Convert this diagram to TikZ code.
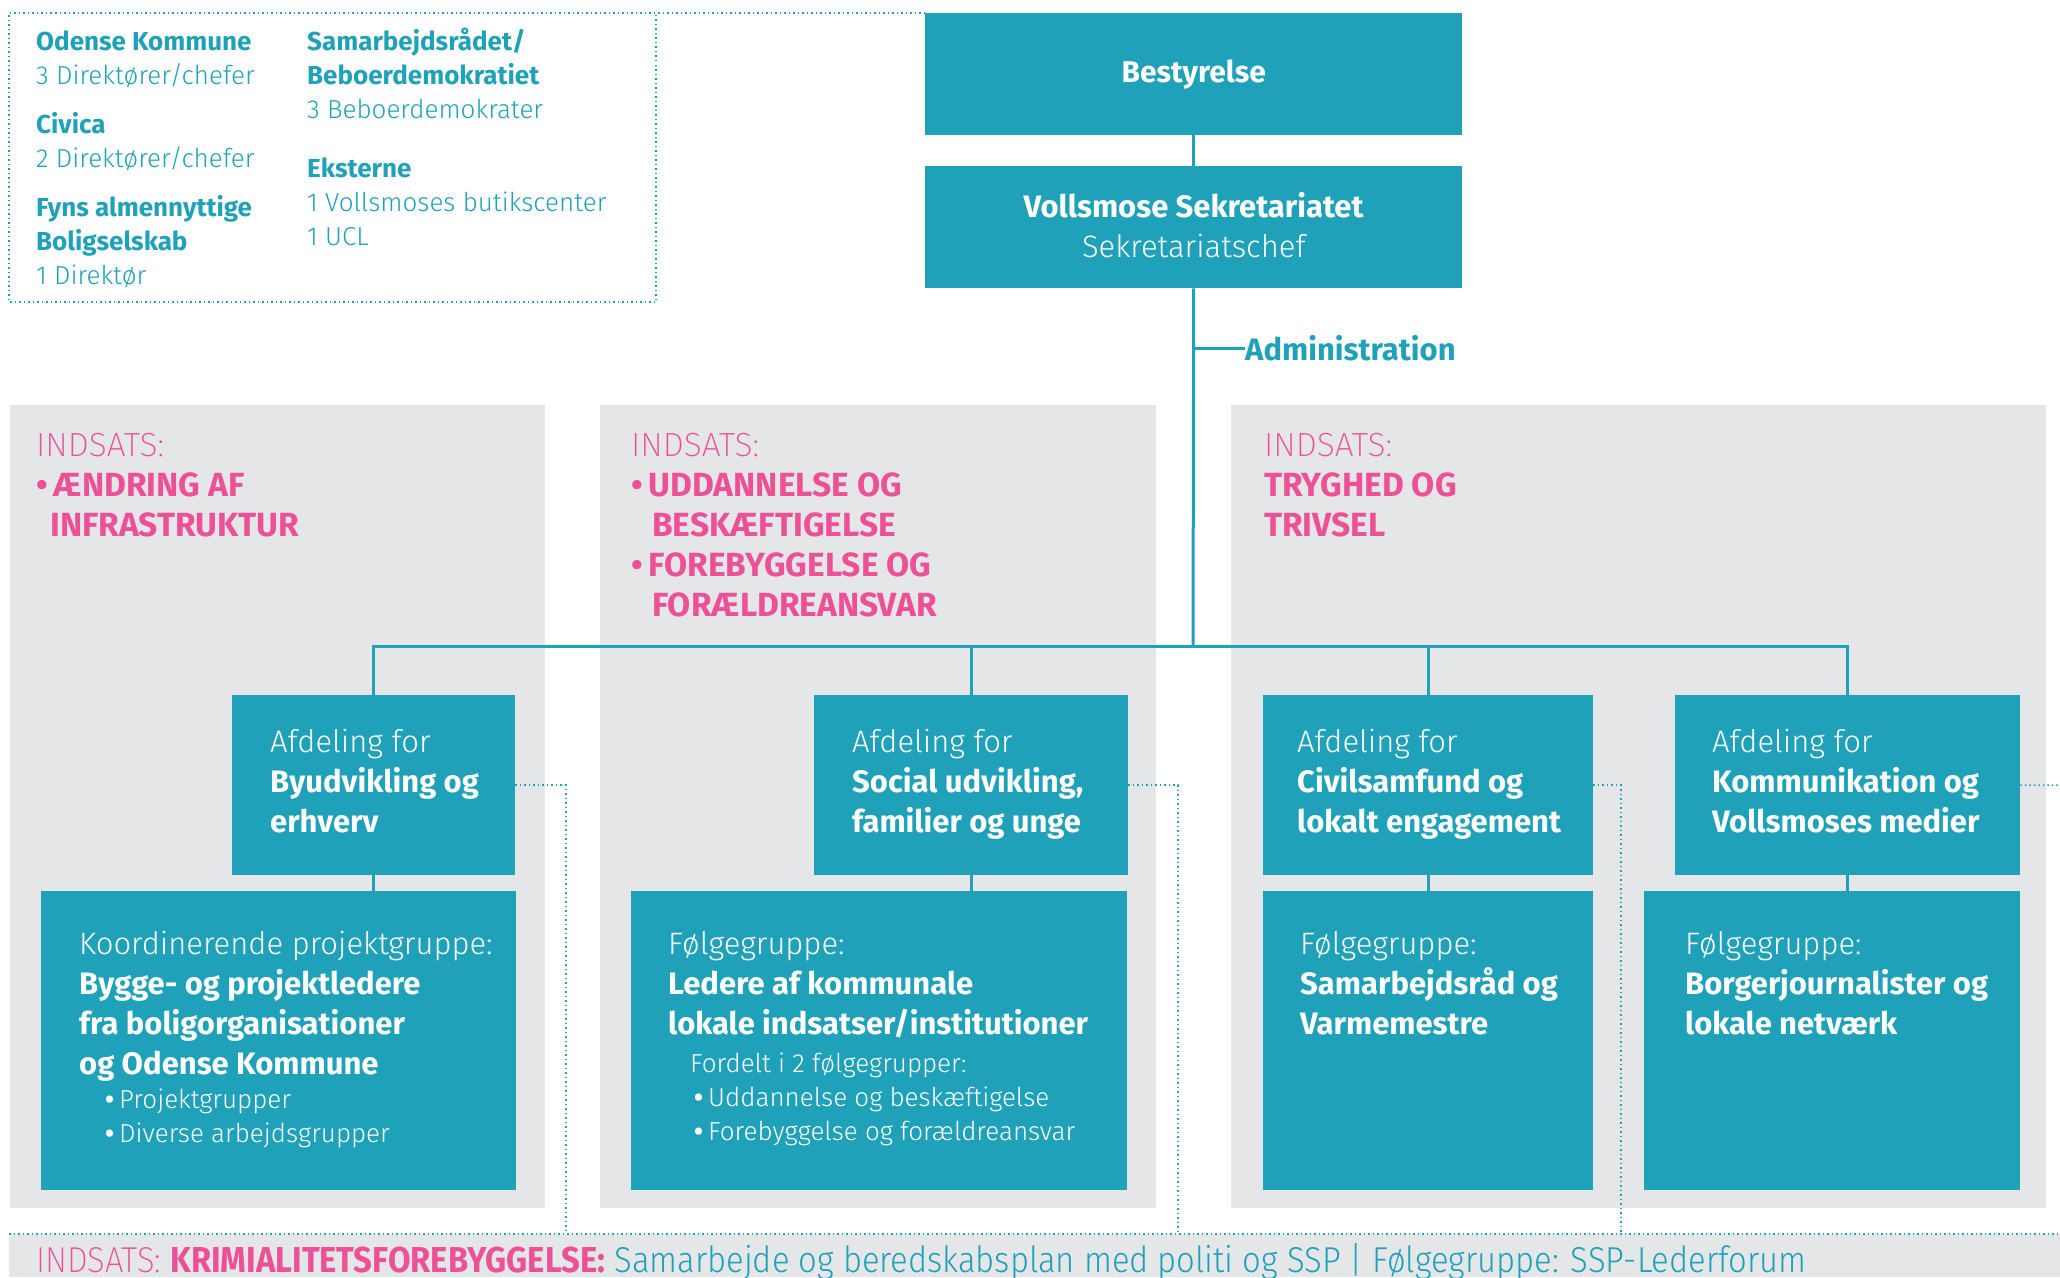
\documentclass[tikz,border=0pt]{standalone}
\usepackage{fontspec}
\setmainfont{Fira Sans}[UprightFont=* Light, BoldFont=* Bold]
\newfontfamily\thinfont{Fira Sans ExtraLight}
\newfontfamily\stripfont{Fira Sans}[UprightFont=* Light, BoldFont=* Bold, FakeStretch=0.91]
\newfontfamily\stripthin{Fira Sans ExtraLight}[FakeStretch=0.91]
\usetikzlibrary{calc}

\definecolor{vteal}{HTML}{1FA1BA}
\definecolor{vpink}{HTML}{EC5197}
\definecolor{vgray}{HTML}{E5E6E8}
\newcommand{\fsz}[2]{\fontsize{#1}{#2}\selectfont}
\newcommand{\bul}{\textbf{•}\hspace{5pt}}

\begin{document}
\begin{tikzpicture}[x=1pt, y=-1pt,
    box/.style={fill=vteal, inner sep=0, anchor=north west},
    conn/.style={draw=vteal, line width=3pt},
    dots/.style={draw=vteal, line width=1.5pt, dash pattern=on 1.5pt off 3pt},
    boxtext/.style={text=white, align=left, anchor=north west, inner sep=0, font=\fsz{31}{40}},
    infotext/.style={text=vteal, align=left, anchor=north west, inner sep=0, font=\fsz{26}{34}},
    pinktext/.style={text=vpink, align=left, anchor=north west, inner sep=0, font=\bfseries\fsz{33.5}{40}}]
    \useasboundingbox (0,0) rectangle (2060,1277);

    % panels
    \fill[vgray] (10,405) rectangle (545,1208);
    \fill[vgray] (600,405) rectangle (1156,1208);
    \fill[vgray] (1231,405) rectangle (2046,1208);
    \fill[vgray] (9,1234) rectangle (2060,1277);

    % top
    \node[box, minimum width=537, minimum height=122] (bestyrelse) at (925,13) {};
    \node[text=white, font=\bfseries\fsz{30}{36}] (bestyrelsetxt) at (bestyrelse.center) {Bestyrelse};
    \node[box, minimum width=537, minimum height=122] (vollsmose) at (925,166) {};
    \node[text=white, align=center, inner sep=0, font=\fsz{31}{40}] (vollsmosetxt) at ([yshift=2pt]vollsmose.center) {\textbf{Vollsmose Sekretariatet}\\Sekretariatschef};
    \node[anchor=west, inner sep=0, text=vteal, font=\bfseries\fsz{31}{36}] (admin) at (1245,348) {Administration};

    % members
    \node[infotext] (odense) at (36,31) {\textbf{Odense Kommune}\\3 Direktører/chefer};
    \node[infotext] (civica) at (36,112) {\textbf{Civica}\\2 Direktører/chefer};
    \node[infotext] (fyns) at (36,195) {\textbf{Fyns almennyttige}\\\textbf{Boligselskab}\\1 Direktør};
    \node[infotext] (samarb) at (307,28) {\textbf{Samarbejdsrådet/}\\\textbf{Beboerdemokratiet}\\3 Beboerdemokrater};
    \node[infotext] (eksterne) at (307,158) {\textbf{Eksterne}\\1 Vollsmoses butikscenter\\1 UCL};

    % indsatser
    \node[pinktext] (ind1) at (36,433) {{\mdseries\thinfont INDSATS:}\\•\hspace{6pt}ÆNDRING AF\\\hspace{14pt}INFRASTRUKTUR};
    \node[pinktext] (ind2) at (631,433) {{\mdseries\thinfont INDSATS:}\\•\hspace{6pt}UDDANNELSE OG\\\hspace{21pt}BESKÆFTIGELSE\\•\hspace{6pt}FOREBYGGELSE OG\\\hspace{21pt}FORÆLDREANSVAR};
    \node[pinktext] (ind3) at (1264,433) {{\mdseries\thinfont INDSATS:}\\TRYGHED OG\\TRIVSEL};

    % afdelinger
    \node[box, minimum width=283, minimum height=180] (afd1) at (232,695) {};
    \node[box, minimum width=314, minimum height=180] (afd2) at (814,695) {};
    \node[box, minimum width=330, minimum height=180] (afd3) at (1263,695) {};
    \node[box, minimum width=345, minimum height=180] (afd4) at (1675,695) {};
    \node[boxtext] (afd1txt) at (270,729) {Afdeling for\\\textbf{Byudvikling og}\\\textbf{erhverv}};
    \node[boxtext] (afd2txt) at (852,729) {Afdeling for\\\textbf{Social udvikling,}\\\textbf{familier og unge}};
    \node[boxtext] (afd3txt) at (1297,729) {Afdeling for\\\textbf{Civilsamfund og}\\\textbf{lokalt engagement}};
    \node[boxtext] (afd4txt) at (1712,729) {Afdeling for\\\textbf{Kommunikation og}\\\textbf{Vollsmoses medier}};

    % foelgegrupper
    \node[box, minimum width=475, minimum height=299] (fg1) at (41,891) {};
    \node[box, minimum width=496, minimum height=299] (fg2) at (631,891) {};
    \node[box, minimum width=330, minimum height=299] (fg3) at (1263,891) {};
    \node[box, minimum width=376, minimum height=299] (fg4) at (1644,891) {};
    \node[boxtext] (fg1txt) at (79,931) {Koordinerende projektgruppe:\\
        \textbf{Bygge- og projektledere}\\
        \textbf{fra boligorganisationer}\\
        \textbf{og Odense Kommune}\\[-6pt]
        {\fsz{26}{34}\hspace{26pt}\bul Projektgrupper}\\[-6pt]
        {\fsz{26}{34}\hspace{26pt}\bul Diverse arbejdsgrupper}};
    \node[boxtext] (fg2txt) at (668,931) {Følgegruppe:\\
        \textbf{Ledere af kommunale}\\
        \textbf{lokale indsatser/institutioner}\\[-2pt]
        {\fsz{26}{34}\hspace{22pt}Fordelt i 2 følgegrupper:}\\[-6pt]
        {\fsz{26}{34}\hspace{26pt}\bul Uddannelse og beskæftigelse}\\[-6pt]
        {\fsz{26}{34}\hspace{26pt}\bul Forebyggelse og forældreansvar}};
    \node[boxtext] (fg3txt) at (1300,931) {Følgegruppe:\\\textbf{Samarbejdsråd og}\\\textbf{Varmemestre}};
    \node[boxtext] (fg4txt) at (1685,931) {Følgegruppe:\\\textbf{Borgerjournalister og}\\\textbf{lokale netværk}};

    % strip
    \node[anchor=base west, inner sep=0, font=\stripfont\fsz{36}{40}] (krim) at (36,1272) {{\color{vpink}{\stripthin INDSATS:} \textbf{KRIMIALITETSFOREBYGGELSE:}} {\color{vteal}Samarbejde og beredskabsplan med politi og SSP | Følgegruppe: SSP-Lederforum}};

    % connectors
    \coordinate (bus) at (1193,646);
    \coordinate (admtap) at (1193,348);
    \draw[conn] (bestyrelse.south) -- (vollsmose.north);
    \draw[conn] (vollsmose.south) -- (bus);
    \draw[conn] (admtap) -- (admin.west);
    \draw[conn] (afd1.north) -- (afd1.north |- bus) -- (afd4.north |- bus) -- (afd4.north);
    \draw[conn] (afd2.north) -- (afd2.north |- bus);
    \draw[conn] (afd3.north) -- (afd3.north |- bus);
    \draw[conn] (afd1.south) -- (afd1.south |- fg1.north);
    \draw[conn] (afd2.south) -- (afd2.south |- fg2.north);
    \draw[conn] (afd3.south) -- (afd3.south |- fg3.north);
    \draw[conn] (afd4.south) -- (afd4.south |- fg4.north);

    % dotted guides
    \coordinate (d1) at (566,1234);
    \coordinate (d2) at (1178,1234);
    \coordinate (d3) at (1621,1234);
    \coordinate (d4) at (2060,785);
    \draw[dots] (bestyrelse.north west) -- (9,13) -- (9,302) -- (656,302) -- (656,13);
    \draw[dots] (afd1.east) -| (d1);
    \draw[dots] (afd2.east) -| (d2);
    \draw[dots] (afd3.east) -| (d3);
    \draw[dots] (afd4.east) -- (d4);
    \draw[dots] (9,1234) -- (2060,1234);
\end{tikzpicture}
\end{document}
